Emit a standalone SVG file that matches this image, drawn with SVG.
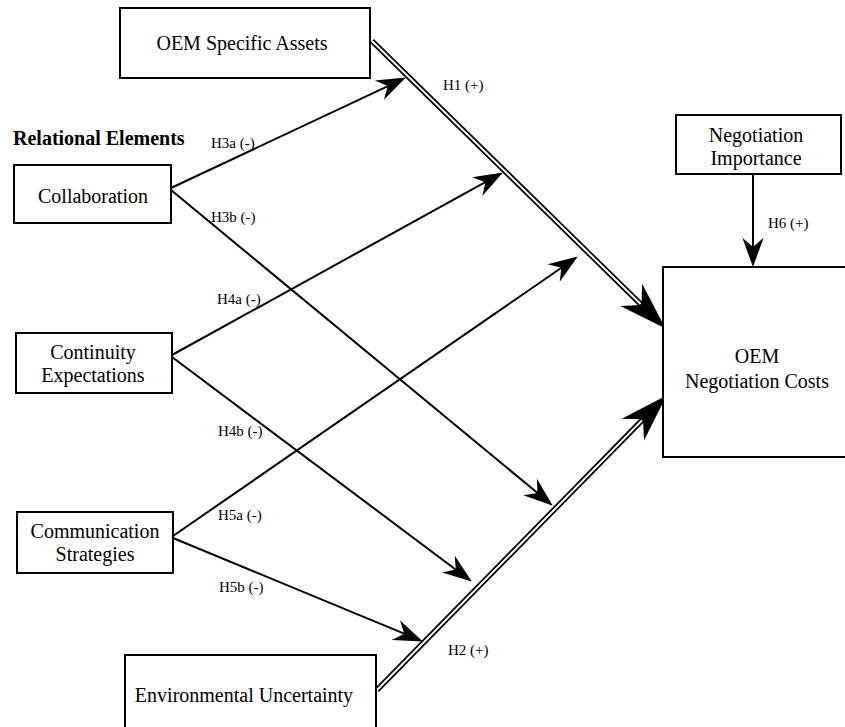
<svg xmlns="http://www.w3.org/2000/svg" width="845" height="727" viewBox="0 0 845 727">
<style>
.box{fill:#fff;stroke:#000;stroke-width:2}
.t{font-family:"Liberation Serif","Times New Roman",serif;font-size:20px;fill:#000;text-anchor:middle}
.h{font-family:"Liberation Serif","Times New Roman",serif;font-size:15px;fill:#000}
.b{font-family:"Liberation Serif","Times New Roman",serif;font-size:20px;font-weight:bold;fill:#000}
.s{fill:none;stroke:#000;stroke-width:2}
.dk{fill:none;stroke:#000;stroke-width:5.5}
.dw{fill:none;stroke:#fff;stroke-width:2}
</style>
<defs>
<marker id="a" markerUnits="userSpaceOnUse" orient="auto" refX="0" refY="0" markerWidth="40" markerHeight="40" viewBox="-20 -10 30 20" overflow="visible">
<path d="M3,0 L-19,-8 L-12,0 L-19,8 Z" fill="#000"/>
</marker>
<marker id="A" markerUnits="userSpaceOnUse" orient="auto" refX="0" refY="0" markerWidth="60" markerHeight="60" viewBox="-20 -15 50 30" overflow="visible">
<path d="M25,0 L-15,-13 L-3,0 L-15,13 Z" fill="#000"/>
</marker>
</defs>
<rect width="845" height="727" fill="#fff"/>
<g id="connectors">
<line class="dk" x1="372" y1="41" x2="644.1" y2="307.5" marker-end="url(#A)"/>
<line class="dw" x1="372" y1="41" x2="640.6" y2="304"/>
<line class="dk" x1="377" y1="690" x2="645.5" y2="416.8" marker-end="url(#A)"/>
<line class="dw" x1="377" y1="690" x2="642" y2="420.4"/>
<line class="s" x1="171" y1="188" x2="402.3" y2="79.3" marker-end="url(#a)"/>
<line class="s" x1="171" y1="190" x2="549.7" y2="503.1" marker-end="url(#a)"/>
<line class="s" x1="172" y1="355" x2="499.4" y2="174.4" marker-end="url(#a)"/>
<line class="s" x1="172" y1="357" x2="468.6" y2="579.2" marker-end="url(#a)"/>
<line class="s" x1="173" y1="536" x2="574.5" y2="258.7" marker-end="url(#a)"/>
<line class="s" x1="173" y1="538" x2="419.2" y2="639.9" marker-end="url(#a)"/>
<line class="s" x1="753" y1="174" x2="753" y2="263" marker-end="url(#a)"/>
<text class="h" x="443" y="90">H1 (+)</text>
<text class="h" x="211" y="148">H3a (-)</text>
<text class="h" x="211" y="222">H3b (-)</text>
<text class="h" x="217" y="304">H4a (-)</text>
<text class="h" x="218" y="436">H4b (-)</text>
<text class="h" x="218" y="520">H5a (-)</text>
<text class="h" x="219" y="592">H5b (-)</text>
<text class="h" x="448" y="655">H2 (+)</text>
<text class="h" x="768" y="228">H6 (+)</text>
</g>
<g id="oem-specific-assets">
<rect class="box" x="120" y="8" width="250" height="70"/>
<text class="t" x="242" y="50">OEM Specific Assets</text>
</g>
<g id="relational-elements">
<text class="b" x="13" y="145">Relational Elements</text>
</g>
<g id="collaboration">
<rect class="box" x="14" y="165" width="157" height="58"/>
<text class="t" x="93" y="203">Collaboration</text>
</g>
<g id="continuity-expectations">
<rect class="box" x="16" y="333" width="156" height="60"/>
<text class="t" x="93" y="359">Continuity</text>
<text class="t" x="93" y="382">Expectations</text>
</g>
<g id="communication-strategies">
<rect class="box" x="17" y="512" width="156" height="61"/>
<text class="t" x="95" y="538">Communication</text>
<text class="t" x="95" y="561">Strategies</text>
</g>
<g id="environmental-uncertainty">
<rect class="box" x="125" y="655" width="251" height="85"/>
<text class="t" x="244" y="702">Environmental Uncertainty</text>
</g>
<g id="negotiation-importance">
<rect class="box" x="676" y="115" width="165" height="59"/>
<text class="t" x="756" y="142">Negotiation</text>
<text class="t" x="756" y="165">Importance</text>
</g>
<g id="oem-negotiation-costs">
<rect class="box" x="663" y="267" width="200" height="190"/>
<text class="t" x="757" y="363">OEM</text>
<text class="t" x="757" y="388">Negotiation Costs</text>
</g>
</svg>
